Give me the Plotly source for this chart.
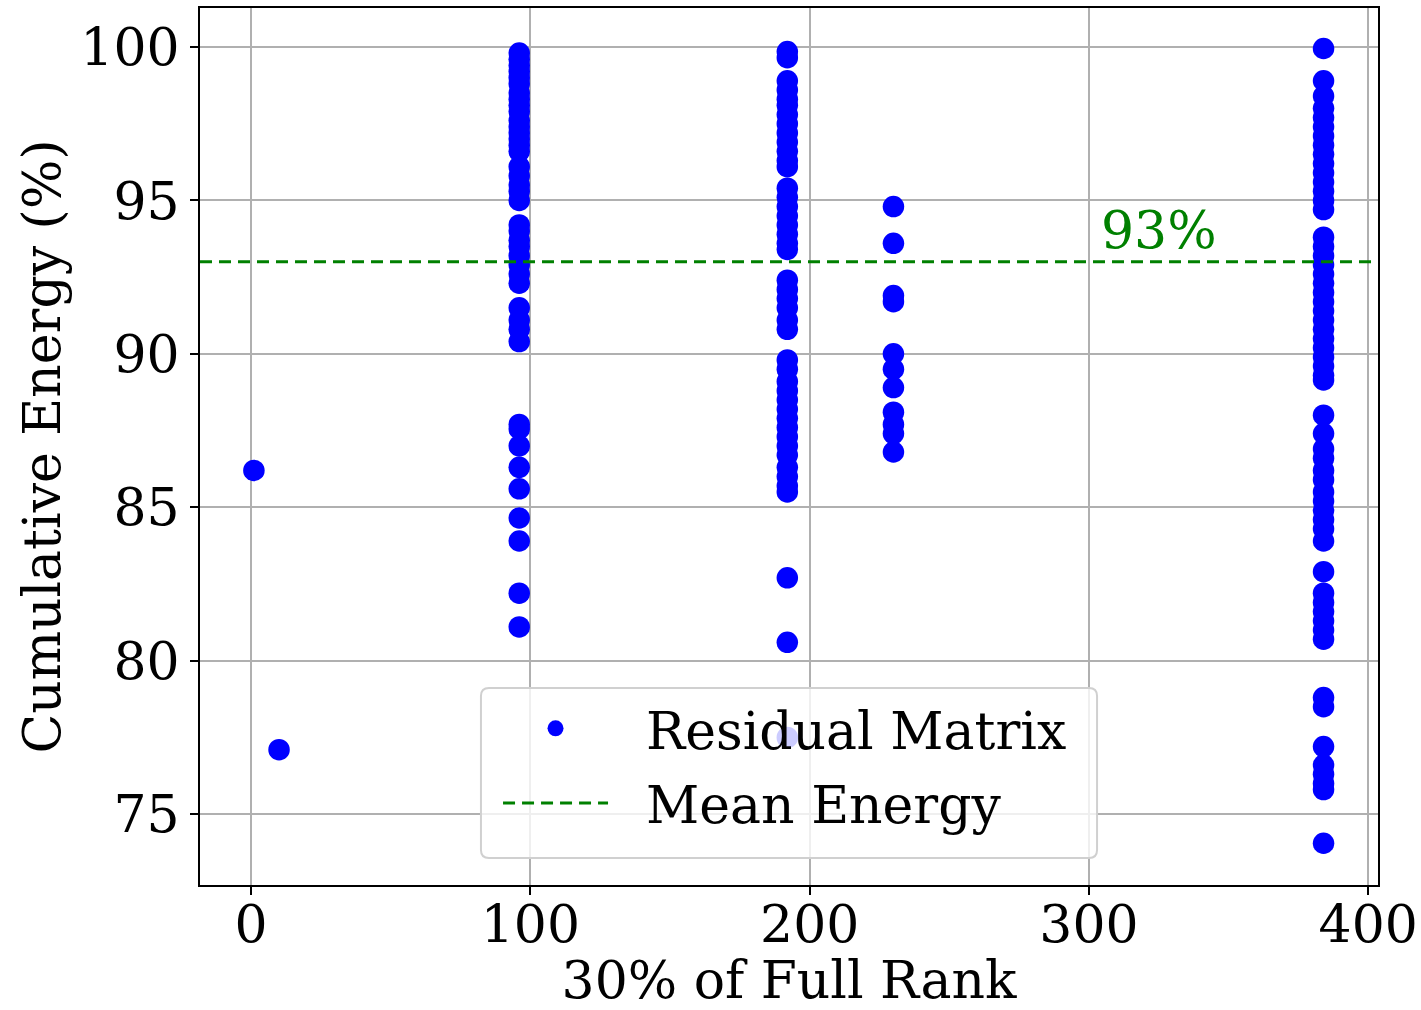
import plotly.graph_objects as go

# ---- data ----
rank_single = [1, 10]
energy_single = [86.2, 77.1]

rank_96 = 96
energy_96 = [99.8, 99.6, 99.4, 99.2, 99.0, 98.8, 98.5, 98.3, 98.1, 97.9, 97.6, 97.4, 97.2,
             97.0, 96.8, 96.6, 96.1, 95.8, 95.5, 95.3, 95.0, 94.2, 94.0, 93.7, 93.5, 93.2,
             92.9, 92.6, 92.3, 91.5, 91.1, 90.8, 90.4, 87.7, 87.55, 87.0, 86.3, 85.6, 84.65,
             83.9, 82.2, 81.1]

rank_192 = 192
energy_192 = [99.85, 99.65, 98.9, 98.6, 98.3, 98.1, 97.8, 97.5, 97.2, 96.9, 96.6, 96.3, 96.1,
              95.4, 95.1, 94.8, 94.5, 94.2, 93.9, 93.6, 93.4, 92.4, 92.1, 91.8, 91.5, 91.1,
              90.8, 89.8, 89.5, 89.1, 88.8, 88.5, 88.2, 87.9, 87.6, 87.3, 87.0, 86.7, 86.3,
              86.0, 85.7, 85.5, 82.7, 80.6, 77.5]

rank_230 = 230
energy_230 = [94.8, 93.6, 91.9, 91.7, 90.0, 89.5, 88.9, 88.1, 87.7, 87.4, 86.8]

rank_384 = 384
energy_384 = [99.95, 98.9, 98.4, 98.0, 97.7, 97.4, 97.1, 96.8, 96.5, 96.2, 95.9, 95.6, 95.3,
              95.0, 94.7, 93.8, 93.5, 93.2, 92.9, 92.6, 92.3, 92.0, 91.7, 91.4, 91.1, 90.8,
              90.5, 90.2, 89.9, 89.6, 89.3, 89.15, 88.0, 87.4, 86.9, 86.6, 86.2, 85.9, 85.5,
              85.2, 84.9, 84.6, 84.3, 83.9, 82.9, 82.2, 81.9, 81.6, 81.3, 81.0, 80.7, 78.8,
              78.5, 77.2, 76.6, 76.3, 76.0, 75.8, 74.05]

mean_energy = 93
x_range = [-18.3, 403.5]
y_range = [72.69, 101.27]
x_ticks = [0, 100, 200, 300, 400]
y_ticks = [75, 80, 85, 90, 95, 100]

# ---- assemble ----
xs = list(rank_single)
ys = list(energy_single)
for r, e in [(rank_96, energy_96), (rank_192, energy_192), (rank_230, energy_230), (rank_384, energy_384)]:
    xs += [r] * len(e)
    ys += e

FONT = "DejaVu Serif"
FS = 52
PAD = "\u00a0\u00a0"

fig = go.Figure()
fig.add_trace(go.Scatter(
    x=xs, y=ys, mode="markers", name=PAD + "Residual Matrix", legendgroup="a",
    marker=dict(color="blue", size=21.5, line=dict(width=0)),
))
fig.add_trace(go.Scatter(
    x=x_range, y=[mean_energy, mean_energy], mode="lines", name=PAD + "Mean Energy",
    legendgroup="b",
    line=dict(color="green", width=3, dash="12px,7px"),
))

fig.add_annotation(x=325.1, y=94.05, text="93%", showarrow=False,
                   font=dict(family=FONT, size=FS, color="green"),
                   xanchor="center", yanchor="middle")

# rounded legend box
l, r = 0.2385, 0.7615
t, b = 0.2246, 0.0308
rx, ry = 0.0068, 0.0091
path = (f"M{l+rx},{t} L{r-rx},{t} Q{r},{t} {r},{t-ry} L{r},{b+ry} Q{r},{b} {r-rx},{b} "
        f"L{l+rx},{b} Q{l},{b} {l},{b+ry} L{l},{t-ry} Q{l},{t} {l+rx},{t} Z")
fig.add_shape(type="path", path=path, xref="paper", yref="paper",
              fillcolor="rgba(255,255,255,0.8)", line=dict(color="#d0d0d0", width=2),
              layer="above")

axis_common = dict(
    showline=True, linecolor="black", linewidth=2, mirror=True,
    ticks="outside", ticklen=8, tickwidth=2, tickcolor="black",
    showgrid=True, gridcolor="#b0b0b0", gridwidth=1.5,
    zeroline=False, automargin=False,
    tickfont=dict(family=FONT, size=FS, color="black"),
)

fig.update_xaxes(range=x_range, tickvals=x_ticks, ticklabelstandoff=-15,
                 title=dict(text="30% of Full Rank", font=dict(family=FONT, size=FS, color="black"), standoff=16),
                 **axis_common)
fig.update_yaxes(range=y_range, tickvals=y_ticks,
                 title=dict(text="Cumulative Energy (%)", font=dict(family=FONT, size=FS, color="black"), standoff=3),
                 **axis_common)

fig.update_layout(
    width=1421, height=1010,
    margin=dict(l=200, r=43, t=8, b=125),
    plot_bgcolor="white", paper_bgcolor="white",
    font=dict(family=FONT, size=FS, color="black"),
    showlegend=True,
    legend=dict(x=0.253, y=0.2246, xanchor="left", yanchor="top",
                bgcolor="rgba(0,0,0,0)", borderwidth=0,
                font=dict(family=FONT, size=FS, color="black"),
                itemwidth=105, traceorder="grouped", tracegroupgap=4),
)

fig.write_html("out.html")
